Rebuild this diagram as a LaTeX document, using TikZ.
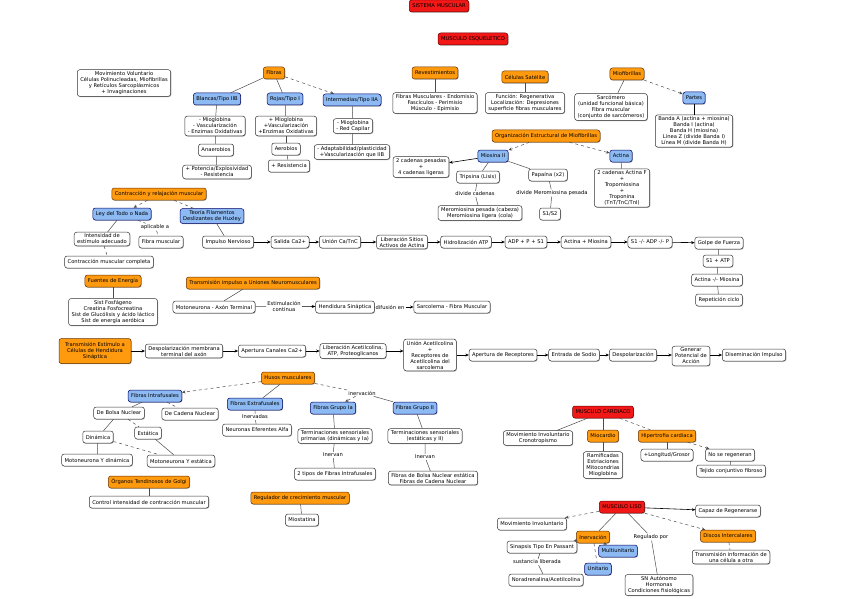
\documentclass[tikz,border=0pt]{standalone}
\usepackage{fontspec}
\setmainfont{DejaVu Sans}
\usepackage{tikz}
\usetikzlibrary{
  arrows.meta,
  positioning,
  shadows
}
\definecolor{mapred}{HTML}{F21818}
\definecolor{maporange}{HTML}{FF9A0E}
\definecolor{mapblue}{HTML}{8DBAF2}
\tikzstyle{basebox} = [
  rectangle, rounded corners=2.5pt, draw=black!80, line width=0.5pt,
  fill=white, align=center, inner xsep=3pt, inner ysep=1.8pt,
  minimum height=12pt, font=\fontsize{5.2}{6}\selectfont,
  drop shadow={shadow xshift=0.6pt, shadow yshift=-0.7pt, opacity=0.7}
]
\tikzstyle{plainbox} = [basebox]
\tikzstyle{redbox} = [basebox, fill=mapred, draw=red!40!black]
\tikzstyle{orangebox} = [basebox, fill=maporange, draw=orange!40!black]
\tikzstyle{bluebox} = [basebox, fill=mapblue, draw=blue!40!black]
\tikzstyle{linklabel} = [inner sep=1pt, fill=white, font=\fontsize{5.2}{6}\selectfont, align=center]
\tikzstyle{arrowstyle} = [-{Stealth[length=3.5pt, width=3pt]}, line width=0.6pt]
\tikzstyle{dasharrow} = [-{Stealth[length=3.5pt, width=3pt]}, dashed, line width=0.5pt, black!70]
\tikzstyle{plainline} = [line width=0.5pt, black!70]
\tikzstyle{dashline} = [dashed, line width=0.5pt, black!70]

\begin{document}
\begin{tikzpicture}[x=1pt, y=-1pt]
\useasboundingbox (0,0) rectangle (848,599);

% --- Titles ---
\node[redbox] (sistema) at (439,6) {SISTEMA MUSCULAR};
\node[redbox] (esqueletico) at (473,39) {MUSCULO ESQUELETICO};

% --- Fibras ---
\node[plainbox] (voluntario) at (124,83) {Movimiento Voluntario\\Células Polinucleadas, Miofibrillas\\y Retículos Sarcoplásmicos\\+ Invaginaciones};
\node[orangebox] (fibras) at (274,73) {Fibras};
\node[bluebox] (blancas) at (217,99) {Blancas/Tipo IIB};
\node[bluebox] (rojas) at (285,99) {Rojas/Tipo I};
\node[bluebox] (intermedias) at (352,100) {Intermedias/Tipo IIA};
\node[plainbox] (blancasinfo) at (215,126) {- Mioglobina\\- Vascularización\\- Enzimas Oxidativas};
\node[plainbox] (anaerobios) at (216,150) {Anaerobios};
\node[plainbox] (potencia) at (217,172) {+ Potencia/Explosividad\\- Resistencia};
\node[plainbox] (rojasinfo) at (286,126) {+ Mioglobina\\+Vascularización\\+Enzimas Oxidativas};
\node[plainbox] (aerobios) at (286,149) {Aerobios};
\node[plainbox] (resistencia) at (289,166) {+ Resistencia};
\node[plainbox] (intermediasinfo) at (353,126) {- Mioglobina\\- Red Capilar};
\node[plainbox] (adaptab) at (352,152) {- Adaptabilidad/plasticidad\\+Vascularización que IIB};

% --- Revestimientos / Satelite / Miofibrillas ---
\node[orangebox] (revest) at (435,73) {Revestimientos};
\node[plainbox] (revestinfo) at (435,103) {Fibras Musculares - Endomisio\\Fascículos - Perimisio\\Músculo - Epimisio};
\node[orangebox] (satelite) at (525,77) {Células Satélite};
\node[plainbox] (sateliteinfo) at (525,103) {Función: Regenerativa\\Localización: Depresiones\\superficie fibras musculares};
\node[orangebox] (miofibrillas) at (627,74) {Miofibrillas};
\node[plainbox] (sarcomero) at (611,107) {Sarcómero\\(unidad funcional básica)\\Fibra muscular\\(conjunto de sarcómeros)};
\node[bluebox] (partes) at (694,98) {Partes};
\node[plainbox] (partesinfo) at (694,131) {Banda A (actina + miosina)\\Banda I (actina)\\Banda H (miosina)\\Línea Z (divide Banda I)\\Línea M (divide Banda H)};

% --- Organizacion estructural ---
\node[orangebox] (organizacion) at (546,136) {Organización Estructural de Miofibrillas};
\node[bluebox] (miosina) at (493,156) {Miosina II};
\node[plainbox] (cadenas) at (421,167) {2 cadenas pesadas\\+\\4 cadenas ligeras};
\node[plainbox] (tripsina) at (478,177) {Tripsina (Lisis)};
\node[plainbox] (papaina) at (548,175) {Papaína (x2)};
\node[linklabel] (lblcadenas) at (475,194) {divide cadenas};
\node[linklabel] (lblpesada) at (552,193) {divide Meromiosina pesada};
\node[plainbox] (meromiosina) at (480,213) {Meromiosina pesada (cabeza)\\Meromiosina ligera (cola)};
\node[plainbox] (sunosdos) at (550,214) {S1/S2};
\node[bluebox] (actina) at (621,156) {Actina};
\node[plainbox] (actinainfo) at (622,188) {2 cadenas Actina F\\+\\Tropomiosina\\+\\Troponina\\(TnT/TnC/TnI)};

% --- Contraccion ---
\node[orangebox] (contraccion) at (159,194) {Contracción y relajación muscular};
\node[bluebox] (ley) at (122,214) {Ley del Todo o Nada};
\node[bluebox] (teoria) at (212,216) {Teoría Filamentos\\Deslizantes de Huxley};
\node[linklabel] (lblaplicable) at (155,227) {aplicable a};
\node[plainbox] (intensidad) at (102,239) {Intensidad de\\estímulo adecuado};
\node[plainbox] (fibramusc) at (161,242) {Fibra muscular};
\node[plainbox] (completa) at (109,262) {Contracción muscular completa};
\node[plainbox] (impulso) at (228,242) {Impulso Nervioso};
\node[plainbox] (salida) at (290,242) {Salida Ca2+};
\node[plainbox] (unionca) at (340,242) {Unión Ca/TnC};
\node[plainbox] (sitios) at (402,242) {Liberación Sitios\\Activos de Actina};
\node[plainbox] (hidrolisis) at (466,242) {Hidrolización ATP};
\node[plainbox] (adp) at (526,242) {ADP + P + S1};
\node[plainbox] (actmio) at (586,242) {Actina + Miosina};
\node[plainbox] (sunoadp) at (650,242) {S1 -/- ADP -/- P};
\node[plainbox] (golpe) at (719,243) {Golpe de Fuerza};
\node[plainbox] (satp) at (718,261) {S1 + ATP};
\node[plainbox] (actnomio) at (717,280) {Actina -/- Miosina};
\node[plainbox] (repeticion) at (719,300) {Repetición ciclo};

% --- Energia / Transmision impulso ---
\node[orangebox] (fuentes) at (113,281) {Fuentes de Energía};
\node[plainbox] (fuentesinfo) at (113,312) {Sist Fosfágeno\\Creatina Fosfocreatina\\Sist de Glucólisis y ácido láctico\\Sist de energía aeróbica};
\node[orangebox] (transimp) at (253,283) {Transmisión impulso a Uniones Neuromusculares};
\node[plainbox] (potencial) at (214,307) {Motoneurona - Axón Terminal};
\node[linklabel] (lblestim) at (284,306) {Estimulación\\continua};
\node[plainbox] (hendidura) at (345,307) {Hendidura Sináptica};
\node[linklabel] (lbldifusion) at (390,307) {difusión en};
\node[plainbox] (sarcolema) at (452,307) {Sarcolema - Fibra Muscular};

% --- Transmision estimulo ---
\node[orangebox, minimum width=72pt, minimum height=25pt] (transest) at (95,351) {Transmisión Estímulo a\\Células de Hendidura\\Sináptica};
\node[plainbox] (despol) at (184,351) {Despolarización membrana\\terminal del axón};
\node[plainbox] (canales) at (272,351) {Apertura Canales Ca2+};
\node[plainbox] (libacet) at (353,351) {Liberación Acetilcolina,\\ATP, Proteoglicanos};
\node[plainbox] (unionacet) at (430,355) {Unión Acetilcolina\\+\\Receptores de\\Acetilcolina del\\sarcolema};
\node[plainbox] (aperturarec) at (503,355) {Apertura de Receptores};
\node[plainbox] (entrada) at (574,355) {Entrada de Sodio};
\node[plainbox] (despolar) at (633,355) {Despolarización};
\node[plainbox] (generar) at (691,356) {Generar\\Potencial de\\Acción};
\node[plainbox] (disemin) at (754,355) {Diseminación Impulso};

% --- Husos musculares ---
\node[orangebox] (husos) at (288,378) {Husos musculares};
\node[bluebox] (intrafus) at (155,396) {Fibras Intrafusales};
\node[bluebox] (extrafus) at (255,404) {Fibras Extrafusales};
\node[linklabel] (lblinervadas) at (255,417) {Inervadas};
\node[plainbox] (neuronas) at (257,430) {Neuronas Eferentes Alfa};
\node[linklabel] (lblinervacion) at (362,393) {inervación};
\node[bluebox] (grupoia) at (333,408) {Fibras Grupo Ia};
\node[bluebox] (grupoii) at (415,408) {Fibras Grupo II};
\node[plainbox] (termprim) at (335,436) {Terminaciones sensoriales\\primarias (dinámicas y Ia)};
\node[linklabel] (lblinervanuno) at (333,455) {Inervan};
\node[plainbox] (dostipos) at (335,474) {2 tipos de Fibras Intrafusales};
\node[plainbox] (termsec) at (425,436) {Terminaciones sensoriales\\(estáticas y II)};
\node[linklabel] (lblinervandos) at (425,457) {Inervan};
\node[plainbox] (bolsacadena) at (433,478) {Fibras de Bolsa Nuclear estática\\Fibras de Cadena Nuclear};
\node[plainbox] (bolsa) at (119,413) {De Bolsa Nuclear};
\node[plainbox] (cadena) at (190,414) {De Cadena Nuclear};
\node[plainbox] (dinamica) at (98,437) {Dinámica};
\node[plainbox] (estatica) at (148,433) {Estática};
\node[plainbox] (motodin) at (97,460) {Motoneurona Y dinámica};
\node[plainbox] (motoest) at (181,461) {Motoneurona Y estática};
\node[orangebox] (golgi) at (149,482) {Órganos Tendinosos de Golgi};
\node[plainbox] (control) at (149,502) {Control intensidad de contracción muscular};
\node[orangebox] (regulador) at (300,498) {Regulador de crecimiento muscular};
\node[plainbox] (miostatina) at (302,520) {Miostatina};

% --- Musculo cardiaco ---
\node[redbox] (cardiaco) at (603,412) {MUSCULO CARDIACO};
\node[plainbox] (involcard) at (538,438) {Movimiento Involuntario\\Cronotropismo};
\node[orangebox] (miocardio) at (603,436) {Miocardio};
\node[orangebox] (hipertrofia) at (667,436) {Hipertrofia cardiaca};
\node[plainbox] (miocinfo) at (603,465) {Ramificadas\\Estriaciones\\Mitocondrias\\Mioglobina};
\node[plainbox] (longitud) at (667,455) {+Longitud/Grosor};
\node[plainbox] (noregen) at (730,455) {No se regeneran};
\node[plainbox] (tejido) at (731,471) {Tejido conjuntivo fibroso};

% --- Musculo liso ---
\node[redbox] (liso) at (622,507) {MUSCULO LISO};
\node[plainbox] (capaz) at (728,511) {Capaz de Regenerarse};
\node[plainbox] (involliso) at (532,524) {Movimiento Involuntario};
\node[orangebox] (inervacion) at (593,537) {Inervación};
\node[orangebox] (discos) at (728,536) {Discos Intercalares};
\node[plainbox] (transinfo) at (731,557) {Transmisión información de\\una célula a otra};
\node[plainbox] (sinapsis) at (542,547) {Sinapsis Tipo En Passant};
\node[bluebox] (multi) at (618,551) {Multiunitario};
\node[bluebox] (unitario) at (598,569) {Unitario};
\node[linklabel] (lblsustancia) at (537,562) {sustancia liberada};
\node[plainbox] (noradr) at (546,580) {Noradrenalina/Acetilcolina};
\node[linklabel] (lblregulado) at (651,537) {Regulado por};
\node[plainbox] (snauto) at (659,585) {SN Autónomo\\Hormonas\\Condiciones fisiológicas};

% --- Connectors: fibras ---
\draw[plainline] (fibras) -- (blancas);
\draw[plainline] (fibras) -- (rojas);
\draw[dasharrow] (fibras) -- (intermedias);
\draw[plainline] (blancas) -- (blancasinfo);
\draw[plainline] (blancasinfo) -- (anaerobios);
\draw[plainline] (anaerobios) -- (potencia);
\draw[plainline] (rojas) -- (rojasinfo);
\draw[plainline] (rojasinfo) -- (aerobios);
\draw[plainline] (aerobios) -- (resistencia);
\draw[plainline] (intermedias) -- (intermediasinfo);
\draw[plainline] (intermediasinfo) -- (adaptab);

% --- Connectors: estructura ---
\draw[plainline] (revest) -- (revestinfo);
\draw[plainline] (satelite) -- (sateliteinfo);
\draw[plainline] (miofibrillas) -- (sarcomero);
\draw[dasharrow] (miofibrillas) -- (partes);
\draw[plainline, black, line width=0.7pt] (partes) -- (partesinfo);
\draw[dasharrow] (organizacion) -- (miosina);
\draw[dasharrow] (organizacion) -- (actina);
\draw[arrowstyle] (miosina) -- (cadenas);
\draw[plainline] (miosina) -- (tripsina);
\draw[plainline] (miosina) -- (papaina);
\draw[plainline] (tripsina) -- (lblcadenas) -- (meromiosina);
\draw[plainline] (papaina) -- (lblpesada);
\draw[plainline] (lblpesada) -- (sunosdos);
\draw[plainline] (actina) -- (actinainfo);

% --- Connectors: contraccion ---
\draw[dasharrow] (contraccion) -- (ley);
\draw[dashline] (contraccion) -- (teoria);
\draw[plainline] (ley) -- (intensidad);
\draw[dashline] (ley) -- (lblaplicable);
\draw[dashline] (lblaplicable) -- (fibramusc);
\draw[dashline] (intensidad) -- (completa);
\draw[plainline] (teoria) -- (impulso);
\draw[arrowstyle] (impulso) -- (salida);
\draw[arrowstyle] (salida) -- (unionca);
\draw[arrowstyle] (unionca) -- (sitios);
\draw[arrowstyle] (sitios) -- (hidrolisis);
\draw[arrowstyle] (hidrolisis) -- (adp);
\draw[arrowstyle] (adp) -- (actmio);
\draw[arrowstyle] (actmio) -- (sunoadp);
\draw[arrowstyle] (sunoadp) -- (golpe);
\draw[plainline] (golpe) -- (satp);
\draw[plainline] (satp) -- (actnomio);
\draw[plainline] (actnomio) -- (repeticion);

% --- Connectors: energia / impulso ---
\draw[plainline] (fuentes) -- (fuentesinfo);
\draw[plainline] (transimp) -- (potencial);
\draw[plainline] (potencial) -- (lblestim);
\draw[arrowstyle] (lblestim) -- (hendidura);
\draw[plainline] (hendidura) -- (lbldifusion);
\draw[arrowstyle] (lbldifusion) -- (sarcolema);

% --- Connectors: transmision estimulo ---
\draw[arrowstyle] (transest) -- (despol);
\draw[arrowstyle] (despol) -- (canales);
\draw[arrowstyle] (canales) -- (libacet);
\draw[arrowstyle] (libacet) -- (unionacet.west |- libacet);
\draw[arrowstyle] (unionacet) -- (aperturarec);
\draw[arrowstyle] (aperturarec) -- (entrada);
\draw[arrowstyle] (entrada) -- (despolar);
\draw[arrowstyle] (despolar) -- (generar.west |- despolar);
\draw[arrowstyle] (generar.east |- disemin) -- (disemin);

% --- Connectors: husos ---
\draw[dasharrow] (husos) -- (intrafus);
\draw[plainline] (husos) -- (extrafus);
\draw[dashline] (husos) -- (lblinervacion);
\draw[dasharrow] (lblinervacion) -- (grupoia);
\draw[plainline] (lblinervacion) -- (grupoii);
\draw[plainline] (extrafus) -- (lblinervadas) -- (neuronas);
\draw[plainline] (intrafus) -- (bolsa);
\draw[dashline] (intrafus) -- (cadena);
\draw[plainline] (bolsa) -- (dinamica);
\draw[dashline] (bolsa) -- (estatica);
\draw[plainline] (dinamica) -- (motodin);
\draw[dashline] (dinamica) -- (motoest);
\draw[plainline] (estatica) -- (motoest);
\draw[plainline] (golgi) -- (control);
\draw[plainline] (grupoia) -- (termprim);
\draw[plainline] (termprim) -- (lblinervanuno) -- (dostipos);
\draw[plainline] (grupoii) -- (termsec);
\draw[plainline] (termsec) -- (lblinervandos) -- (bolsacadena);
\draw[plainline] (regulador) -- (miostatina);

% --- Connectors: cardiaco ---
\draw[plainline] (cardiaco) -- (involcard);
\draw[plainline] (cardiaco) -- (miocardio);
\draw[dashline] (cardiaco) -- (hipertrofia);
\draw[plainline] (miocardio) -- (miocinfo);
\draw[plainline] (hipertrofia) -- (longitud);
\draw[dasharrow] (hipertrofia) -- (noregen);
\draw[plainline] (noregen) -- (tejido);

% --- Connectors: liso ---
\draw[arrowstyle] (liso) -- (capaz);
\draw[dasharrow] (liso) -- (involliso);
\draw[plainline] (liso) -- (inervacion);
\draw[plainline] (liso) -- (lblregulado);
\draw[plainline] (lblregulado) -- (snauto);
\draw[dasharrow] (liso) -- (discos);
\draw[dashline] (discos) -- (transinfo);
\draw[dasharrow] (inervacion) -- (sinapsis);
\draw[dasharrow] (inervacion) -- (multi);
\draw[dashline] (inervacion) -- (unitario);
\draw[plainline] (sinapsis) -- (lblsustancia) -- (noradr);

\end{tikzpicture}
\end{document}
